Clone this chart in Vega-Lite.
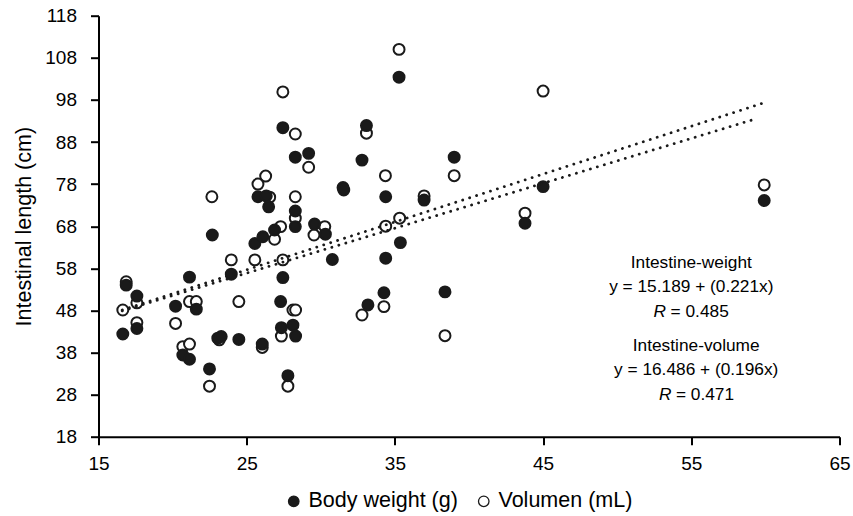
{
  "$schema": "https://vega.github.io/schema/vega-lite/v6.json",
  "width": 741,
  "height": 421,
  "autosize": {"type": "none"},
  "padding": {"left": 98.5, "top": 15.7, "right": 13.5, "bottom": 79.3},
  "background": "white",
  "config": {
    "view": {"stroke": null},
    "font": "Liberation Sans, Arial, sans-serif",
    "text": {"font": "Liberation Sans, Arial, sans-serif"}
  },
  "datasets": {
    "points": [
      {"series": "Volumen (mL)", "x": 27.44, "y": 99.9},
      {"series": "Volumen (mL)", "x": 28.28, "y": 89.9},
      {"series": "Volumen (mL)", "x": 29.18, "y": 82.0},
      {"series": "Volumen (mL)", "x": 26.28, "y": 79.9},
      {"series": "Volumen (mL)", "x": 25.76, "y": 78.0},
      {"series": "Volumen (mL)", "x": 22.65, "y": 75.0},
      {"series": "Volumen (mL)", "x": 26.55, "y": 74.9},
      {"series": "Volumen (mL)", "x": 28.28, "y": 75.0},
      {"series": "Volumen (mL)", "x": 28.28, "y": 69.9},
      {"series": "Volumen (mL)", "x": 27.29, "y": 67.9},
      {"series": "Volumen (mL)", "x": 30.27, "y": 67.9},
      {"series": "Volumen (mL)", "x": 26.88, "y": 64.9},
      {"series": "Volumen (mL)", "x": 29.54, "y": 65.9},
      {"series": "Volumen (mL)", "x": 23.96, "y": 60.0},
      {"series": "Volumen (mL)", "x": 25.55, "y": 60.0},
      {"series": "Volumen (mL)", "x": 27.44, "y": 60.0},
      {"series": "Volumen (mL)", "x": 16.87, "y": 54.8},
      {"series": "Volumen (mL)", "x": 17.59, "y": 49.8},
      {"series": "Volumen (mL)", "x": 16.64, "y": 48.1},
      {"series": "Volumen (mL)", "x": 21.14, "y": 50.1},
      {"series": "Volumen (mL)", "x": 21.6, "y": 50.1},
      {"series": "Volumen (mL)", "x": 24.47, "y": 50.1},
      {"series": "Volumen (mL)", "x": 28.12, "y": 48.1},
      {"series": "Volumen (mL)", "x": 28.3, "y": 48.1},
      {"series": "Volumen (mL)", "x": 20.2, "y": 44.9},
      {"series": "Volumen (mL)", "x": 17.59, "y": 45.1},
      {"series": "Volumen (mL)", "x": 27.34, "y": 41.9},
      {"series": "Volumen (mL)", "x": 23.15, "y": 41.0},
      {"series": "Volumen (mL)", "x": 26.05, "y": 39.2},
      {"series": "Volumen (mL)", "x": 20.69, "y": 39.4},
      {"series": "Volumen (mL)", "x": 21.14, "y": 40.0},
      {"series": "Volumen (mL)", "x": 22.49, "y": 30.0},
      {"series": "Volumen (mL)", "x": 27.78, "y": 30.0},
      {"series": "Volumen (mL)", "x": 35.28, "y": 110.0},
      {"series": "Volumen (mL)", "x": 33.08, "y": 90.1},
      {"series": "Volumen (mL)", "x": 34.36, "y": 80.0},
      {"series": "Volumen (mL)", "x": 39.0, "y": 80.0},
      {"series": "Volumen (mL)", "x": 45.0, "y": 100.1},
      {"series": "Volumen (mL)", "x": 36.97, "y": 75.2},
      {"series": "Volumen (mL)", "x": 43.78, "y": 71.1},
      {"series": "Volumen (mL)", "x": 35.32, "y": 69.9},
      {"series": "Volumen (mL)", "x": 34.38, "y": 68.0},
      {"series": "Volumen (mL)", "x": 34.26, "y": 48.9},
      {"series": "Volumen (mL)", "x": 32.78, "y": 46.9},
      {"series": "Volumen (mL)", "x": 38.38, "y": 42.0},
      {"series": "Volumen (mL)", "x": 59.92, "y": 77.8},
      {"series": "Body weight (g)", "x": 27.44, "y": 91.4},
      {"series": "Body weight (g)", "x": 28.28, "y": 84.4},
      {"series": "Body weight (g)", "x": 29.18, "y": 85.3},
      {"series": "Body weight (g)", "x": 31.5, "y": 77.2},
      {"series": "Body weight (g)", "x": 31.55, "y": 76.6},
      {"series": "Body weight (g)", "x": 25.76, "y": 75.0},
      {"series": "Body weight (g)", "x": 26.32, "y": 75.2},
      {"series": "Body weight (g)", "x": 26.48, "y": 72.6},
      {"series": "Body weight (g)", "x": 28.28, "y": 71.6},
      {"series": "Body weight (g)", "x": 28.28, "y": 67.9},
      {"series": "Body weight (g)", "x": 29.58, "y": 68.5},
      {"series": "Body weight (g)", "x": 26.88, "y": 67.1},
      {"series": "Body weight (g)", "x": 22.68, "y": 65.9},
      {"series": "Body weight (g)", "x": 25.55, "y": 63.9},
      {"series": "Body weight (g)", "x": 26.09, "y": 65.5},
      {"series": "Body weight (g)", "x": 30.31, "y": 66.1},
      {"series": "Body weight (g)", "x": 30.78, "y": 60.1},
      {"series": "Body weight (g)", "x": 23.96, "y": 56.6},
      {"series": "Body weight (g)", "x": 21.14, "y": 55.9},
      {"series": "Body weight (g)", "x": 27.44, "y": 55.8},
      {"series": "Body weight (g)", "x": 16.87, "y": 54.0},
      {"series": "Body weight (g)", "x": 17.59, "y": 51.4},
      {"series": "Body weight (g)", "x": 20.2, "y": 49.0},
      {"series": "Body weight (g)", "x": 21.6, "y": 48.3},
      {"series": "Body weight (g)", "x": 27.29, "y": 50.1},
      {"series": "Body weight (g)", "x": 17.59, "y": 43.7},
      {"series": "Body weight (g)", "x": 16.64, "y": 42.4},
      {"series": "Body weight (g)", "x": 27.34, "y": 43.9},
      {"series": "Body weight (g)", "x": 28.12, "y": 44.5},
      {"series": "Body weight (g)", "x": 28.3, "y": 41.9},
      {"series": "Body weight (g)", "x": 23.05, "y": 41.4},
      {"series": "Body weight (g)", "x": 23.28, "y": 41.8},
      {"series": "Body weight (g)", "x": 24.47, "y": 41.1},
      {"series": "Body weight (g)", "x": 26.05, "y": 40.0},
      {"series": "Body weight (g)", "x": 20.69, "y": 37.4},
      {"series": "Body weight (g)", "x": 21.14, "y": 36.4},
      {"series": "Body weight (g)", "x": 22.49, "y": 34.1},
      {"series": "Body weight (g)", "x": 27.78, "y": 32.5},
      {"series": "Body weight (g)", "x": 35.28, "y": 103.4},
      {"series": "Body weight (g)", "x": 33.08, "y": 91.9},
      {"series": "Body weight (g)", "x": 32.78, "y": 83.7},
      {"series": "Body weight (g)", "x": 39.0, "y": 84.4},
      {"series": "Body weight (g)", "x": 45.0, "y": 77.4},
      {"series": "Body weight (g)", "x": 34.38, "y": 75.0},
      {"series": "Body weight (g)", "x": 36.97, "y": 74.2},
      {"series": "Body weight (g)", "x": 43.78, "y": 68.7},
      {"series": "Body weight (g)", "x": 35.37, "y": 64.1},
      {"series": "Body weight (g)", "x": 34.38, "y": 60.4},
      {"series": "Body weight (g)", "x": 34.26, "y": 52.2},
      {"series": "Body weight (g)", "x": 33.18, "y": 49.3},
      {"series": "Body weight (g)", "x": 38.38, "y": 52.4},
      {"series": "Body weight (g)", "x": 59.92, "y": 74.1}
    ],
    "lines": [
      {"line": "Intestine-weight", "x": 16.6, "y": 48.1},
      {"line": "Intestine-weight", "x": 59.8, "y": 97.2},
      {"line": "Intestine-volume", "x": 16.6, "y": 47.9},
      {"line": "Intestine-volume", "x": 59.45, "y": 93.6}
    ]
  },
  "layer": [
    {
      "data": {"name": "points"},
      "mark": {"type": "point", "shape": "circle", "filled": true, "size": 120, "stroke": "#1a1a1a", "strokeWidth": 2, "opacity": 1},
      "encoding": {
        "x": {
          "field": "x", "type": "quantitative",
          "scale": {"domain": [15, 65], "nice": false, "zero": false},
          "axis": {"values": [15, 25, 35, 45, 55, 65], "title": null, "grid": false,
                   "domainColor": "black", "domainWidth": 2, "tickColor": "black", "tickWidth": 2, "tickSize": 8,
                   "labelFontSize": 19, "labelColor": "black", "labelPadding": 10, "labelFlush": false,
                   "labelFont": "Liberation Sans, Arial, sans-serif"}
        },
        "y": {
          "field": "y", "type": "quantitative",
          "scale": {"domain": [18, 118], "nice": false, "zero": false},
          "axis": {"values": [18, 28, 38, 48, 58, 68, 78, 88, 98, 108, 118], "title": "Intestinal length (cm)", "grid": false,
                   "domainColor": "black", "domainWidth": 2, "tickColor": "black", "tickWidth": 2, "tickSize": 8,
                   "labelFontSize": 19, "labelColor": "black", "labelPadding": 14, "labelFlush": false,
                   "labelFont": "Liberation Sans, Arial, sans-serif",
                   "titleFont": "Liberation Sans, Arial, sans-serif",
                   "titleFontSize": 21.5, "titleFontWeight": "normal", "titleColor": "black",
                   "titleAngle": -90, "titleX": -68.3, "titleY": 210.5, "titleAlign": "center", "titleBaseline": "alphabetic"}
        },
        "fill": {
          "field": "series", "type": "nominal",
          "scale": {"domain": ["Body weight (g)", "Volumen (mL)"], "range": ["#1a1a1a", "#ffffff"]},
          "legend": {"orient": "none", "legendX": 184.5, "legendY": 474.5, "direction": "horizontal", "title": null,
                     "labelFontSize": 21.5, "labelColor": "black", "labelFont": "Liberation Sans, Arial, sans-serif",
                     "symbolType": "circle", "symbolSize": 110, "symbolStrokeColor": "#1a1a1a", "symbolStrokeWidth": 1.3,
                     "symbolOpacity": 1, "labelOffset": 4, "columnPadding": 15, "padding": 0, "labelLimit": 400}
        }
      }
    },
    {
      "data": {"name": "lines"},
      "mark": {"type": "line", "color": "#1a1a1a", "strokeWidth": 2.8, "strokeDash": [0.1, 7.2], "strokeCap": "round"},
      "encoding": {
        "x": {"field": "x", "type": "quantitative"},
        "y": {"field": "y", "type": "quantitative"},
        "detail": {"field": "line", "type": "nominal"}
      }
    },
    {
      "data": {"values": [{"label": "Intestine-weight"}]},
      "mark": {"type": "text", "fontSize": 17.3, "color": "black", "align": "center", "baseline": "middle"},
      "encoding": {"x": {"datum": 55.0}, "y": {"datum": 59.33}, "text": {"field": "label"}}
    },
    {
      "data": {"values": [{"label": "y =  15.189 + (0.221x)"}]},
      "mark": {"type": "text", "fontSize": 17.3, "color": "black", "align": "center", "baseline": "middle"},
      "encoding": {"x": {"datum": 55.0}, "y": {"datum": 53.63}, "text": {"field": "label"}}
    },
    {
      "data": {"values": [{"label": "R"}]},
      "mark": {"type": "text", "fontSize": 17.3, "fontStyle": "italic", "color": "black", "align": "right", "baseline": "middle"},
      "encoding": {"x": {"datum": 53.3}, "y": {"datum": 47.69}, "text": {"field": "label"}}
    },
    {
      "data": {"values": [{"label": "= 0.485"}]},
      "mark": {"type": "text", "fontSize": 17.3, "color": "black", "align": "left", "baseline": "middle", "dx": 4.5},
      "encoding": {"x": {"datum": 53.3}, "y": {"datum": 47.69}, "text": {"field": "label"}}
    },
    {
      "data": {"values": [{"label": "Intestine-volume"}]},
      "mark": {"type": "text", "fontSize": 17.3, "color": "black", "align": "center", "baseline": "middle"},
      "encoding": {"x": {"datum": 55.33}, "y": {"datum": 39.55}, "text": {"field": "label"}}
    },
    {
      "data": {"values": [{"label": "y = 16.486 + (0.196x)"}]},
      "mark": {"type": "text", "fontSize": 17.3, "color": "black", "align": "center", "baseline": "middle"},
      "encoding": {"x": {"datum": 55.33}, "y": {"datum": 33.85}, "text": {"field": "label"}}
    },
    {
      "data": {"values": [{"label": "R"}]},
      "mark": {"type": "text", "fontSize": 17.3, "fontStyle": "italic", "color": "black", "align": "right", "baseline": "middle"},
      "encoding": {"x": {"datum": 53.66}, "y": {"datum": 27.91}, "text": {"field": "label"}}
    },
    {
      "data": {"values": [{"label": "= 0.471"}]},
      "mark": {"type": "text", "fontSize": 17.3, "color": "black", "align": "left", "baseline": "middle", "dx": 4.5},
      "encoding": {"x": {"datum": 53.66}, "y": {"datum": 27.91}, "text": {"field": "label"}}
    }
  ]
}
